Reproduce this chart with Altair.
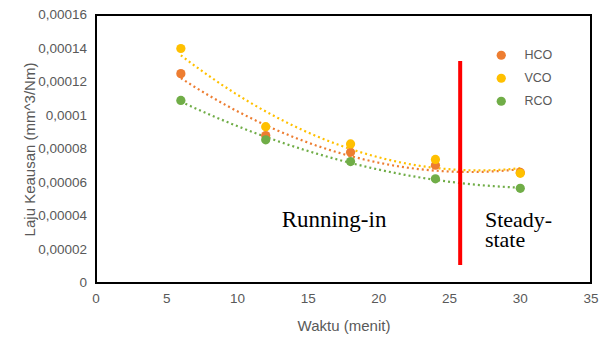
import altair as alt
import pandas as pd

waktu = [6, 12, 18, 24, 30]
series_names = ["HCO", "VCO", "RCO"]
hco = [0.000125, 0.000088, 0.000078, 0.0000703, 0.000066]
vco = [0.00014, 0.0000933, 0.000083, 0.0000738, 0.0000655]
rco = [0.000109, 0.0000855, 0.0000725, 0.0000622, 0.0000565]
colors = ["#ED7D31", "#FFC000", "#70AD47"]
y_ticks = [0, 0.00002, 0.00004, 0.00006, 0.00008, 0.0001, 0.00012, 0.00014, 0.00016]
y_tick_labels = ["0", "0,00002", "0,00004", "0,00006", "0,00008", "0,0001", "0,00012", "0,00014", "0,00016"]
x_ticks = [0, 5, 10, 15, 20, 25, 30, 35]
x_domain = [0, 35]
y_domain = [0, 0.00016]

boundary_x = 25.75
boundary_y = [0.0000107, 0.0001325]
label_running = {"Waktu": 16.83, "Laju": 0.0000336, "txt": "Running-in"}
label_steady = {"Waktu": 27.5, "Laju": 0.0000336}

rows = []
for name, vals in zip(series_names, [hco, vco, rco]):
    for x, v in zip(waktu, vals):
        rows.append({"Waktu": x, "Laju": v, "Seri": name})
df = pd.DataFrame(rows)

FONT = "Liberation Sans"
GRAY = "#595959"
W, H = 495, 268

xscale = alt.Scale(domain=x_domain, nice=False, zero=False)
yscale = alt.Scale(domain=y_domain, nice=False, zero=False)
cscale = alt.Scale(domain=series_names, range=colors)

x_axis = alt.Axis(grid=False, ticks=False, labels=False, domain=False, titlePadding=35)
y_axis = alt.Axis(grid=False, ticks=False, labels=False, domain=False, titlePadding=59)

def X(field="Waktu"):
    return alt.X(f"{field}:Q", scale=xscale, title="Waktu (menit)", axis=x_axis)

def Y(field="Laju"):
    return alt.Y(f"{field}:Q", scale=yscale, title="Laju Keausan (mm^3/Nm)", axis=y_axis)

color_enc = alt.Color(
    "Seri:N", scale=cscale, sort=series_names,
    legend=alt.Legend(title=None, orient="none", legendX=399, legendY=34,
                      symbolType="circle", symbolSize=85, labelOffset=17,
                      rowPadding=10, padding=0, labelFontSize=12.5,
                      labelColor=GRAY, labelFont=FONT, symbolStrokeWidth=0),
)

one = pd.DataFrame({"a": [0]})

def edge(x1, x2, y1, y2):
    return alt.Chart(one).mark_rect(color="#000000", opacity=1).encode(
        x=alt.value(x1), x2=alt.value(x2), y=alt.value(y1), y2=alt.value(y2)
    )

frame = [
    edge(-1, W + 1, -1, 1),
    edge(-1, W + 1, H - 1, H + 1),
    edge(-1, 1, -1, H + 1),
    edge(W - 1, W + 1, -1, H + 1),
]

xlab = alt.Chart(pd.DataFrame({"Waktu": x_ticks, "t": [str(v) for v in x_ticks]})).mark_text(
    font=FONT, fontSize=13.5, color=GRAY, baseline="middle", align="center",
).encode(x=X(), y=alt.value(284), text="t:N")

ylab = alt.Chart(pd.DataFrame({"Laju": y_ticks, "t": y_tick_labels})).mark_text(
    font=FONT, fontSize=13.5, color=GRAY, baseline="middle", align="right",
).encode(x=alt.value(-9), y=Y(), text="t:N")

base = alt.Chart(df)

lines = base.transform_regression(
    "Waktu", "Laju", groupby=["Seri"], method="poly", order=2, extent=[6, 30]
).mark_line(strokeDash=[2, 3], strokeWidth=2.2).encode(
    x=X(), y=Y(), color=color_enc,
)

points = base.mark_circle(size=85, opacity=1).encode(
    x=X(), y=Y(), color=color_enc,
)

red_df = pd.DataFrame({"Waktu": [boundary_x], "Laju": [boundary_y[0]], "Laju2": [boundary_y[1]]})
redline = alt.Chart(red_df).mark_rule(color="#FF0000", strokeWidth=4).encode(
    x=X(), y=Y(), y2="Laju2:Q",
)

running = alt.Chart(pd.DataFrame([label_running])).mark_text(
    font="Liberation Serif", fontSize=23, align="center",
    baseline="alphabetic", color="black",
).encode(x=X(), y=Y(), text="txt:N")

steady = alt.Chart(pd.DataFrame([label_steady])).mark_text(
    text=["Steady-", "state"], font="Liberation Serif", fontSize=22, align="left",
    baseline="alphabetic", lineHeight=20, color="black",
).encode(x=X(), y=Y())

chart = alt.layer(lines, points, redline, running, steady, xlab, ylab, *frame).properties(
    width=W, height=H,
    padding={"left": 88, "top": 7, "right": 14, "bottom": 54},
    autosize="none",
    background="white",
).configure_view(
    stroke=None
).configure_axis(
    labelFont=FONT, titleFont=FONT, labelColor=GRAY, titleColor=GRAY,
    titleFontSize=15, titleFontWeight="normal",
)

chart.save("out.html", embed_options={"renderer": "svg", "actions": False})
